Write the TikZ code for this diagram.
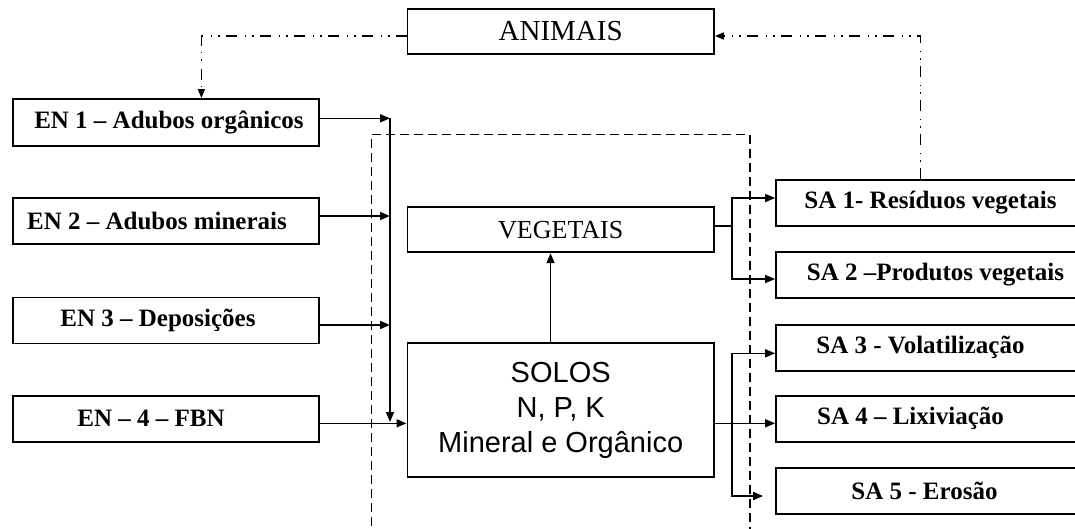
\documentclass[tikz,border=0pt]{standalone}
\usepackage{fontspec}
\setmainfont{Liberation Serif}
\newfontfamily\solfont{Liberation Sans}
\usetikzlibrary{arrows.meta,calc}
\begin{document}
\begin{tikzpicture}[x=1pt,y=-1pt,
  box/.style={draw,line width=1.8pt,inner sep=0pt,minimum height=46pt},
  enbox/.style={box,minimum width=306.5pt,font=\fontsize{25}{30}\selectfont\bfseries},
  sabox/.style={box,minimum width=309pt,font=\fontsize{25}{30}\selectfont\bfseries},
  midbox/.style={box,minimum width=306.6pt,minimum height=45pt,font=\fontsize{26}{30}\selectfont},
  arr/.style={line width=1.6pt,-{Triangle[length=10pt,width=8pt]}},
  ln/.style={line width=1.6pt},
  dashdot/.style={line width=1.4pt,dash pattern=on 11pt off 6pt on 1.5pt off 6pt on 1.5pt off 8pt},
  region/.style={line width=1.5pt,dash pattern=on 9pt off 5pt}
]
\clip (0,0) rectangle (1075,528);
\fill[white] (0,0) rectangle (1075,528);

% dashed region
\coordinate (rbl) at (371.5,540);
\coordinate (rtl) at (371.5,134.7);
\coordinate (rtr) at (750,134.7);
\coordinate (rbr) at (750,540);
\draw[region] (rbl) -- (rtl) -- (rtr) -- (rbr);

% boxes
\node[midbox,font=\fontsize{29}{30}\selectfont] (ANI) at (560.7,31.5) {ANIMAIS};
\node[midbox] (VEG) at (560.7,229.8) {VEGETAIS};
\node[box,minimum width=306.6pt,minimum height=134pt,align=center,
      font=\solfont\fontsize{29}{35}\selectfont] (SOL) at (560.7,410.3)
      {SOLOS\\N, P, K\\Mineral e Orgânico};

\node[enbox,minimum height=46.7pt] (EN1) at (166,122.3) {\hspace*{6pt}EN 1 – Adubos orgânicos};
\node[enbox] (EN2) at (166,221.3) {EN 2 – Adubos minerais\hspace*{18pt}};
\node[enbox] (EN3) at (166,320.5) {EN 3 – Deposições\hspace*{16pt}};
\node[enbox] (EN4) at (166,418.7) {EN – 4 – FBN\hspace*{30pt}};

\node[sabox] (SA1) at (930.5,202.8) {SA 1- Resíduos vegetais};
\node[sabox] (SA2) at (930.5,275) {SA 2 –Produtos vegetais\hspace*{-10pt}};
\node[sabox] (SA3) at (930.5,347.8) {SA 3 - Volatilização\hspace*{20pt}};
\node[sabox] (SA4) at (930.5,418.6) {SA 4 – Lixiviação\hspace*{40pt}};
\node[sabox] (SA5) at (930.5,491.2) {SA 5 - Erosão\hspace*{12pt}};

% dash-dot loop via animals
\draw[dashdot,-{Triangle[length=9pt,width=7pt]}] ($(ANI.west)+(0,4.5)$) -| ([xshift=35.4pt]EN1.north);
\draw[dashdot,-{Triangle[length=9pt,width=7pt]}] ([xshift=-9.8pt]SA1.north) |- ($(ANI.east)+(0,4.5)$);

% inputs
\coordinate (bustop) at (390,118.3);
\coordinate (busbot) at (390,422);
\draw[arr] ($(EN1.east)+(0,-4)$) -- (bustop);
\draw[arr] ($(EN2.east)+(0,-5.3)$) -- (390,216);
\draw[arr] ($(EN3.east)+(0,4.5)$) -- (390,325);
\draw[arr] (bustop) -- (busbot);
\draw[arr] ($(EN4.east)+(0,4.6)$) -- ($(SOL.west)+(0,13)$);

% soil to plants
\draw[arr] ([xshift=-10.2pt]SOL.north) -- ([xshift=-10.2pt]VEG.south);

% plants outputs
\coordinate (vj) at (732,226);
\draw[ln] ($(VEG.east)+(0,-3.8)$) -- (vj);
\draw[arr] (vj) |- ($(SA1.west)+(0,-4.8)$);
\draw[arr] (vj) |- ($(SA2.west)+(0,4)$);

% soil outputs
\coordinate (sj) at (732,423.3);
\draw[arr] ($(SOL.east)+(0,13)$) -- ($(SA4.west)+(0,4.7)$);
\draw[arr] (sj) |- ($(SA3.west)+(0,5.5)$);
\draw[arr] (sj) |- ($(SA5.west)+(-12,4.8)$);
\end{tikzpicture}
\end{document}
